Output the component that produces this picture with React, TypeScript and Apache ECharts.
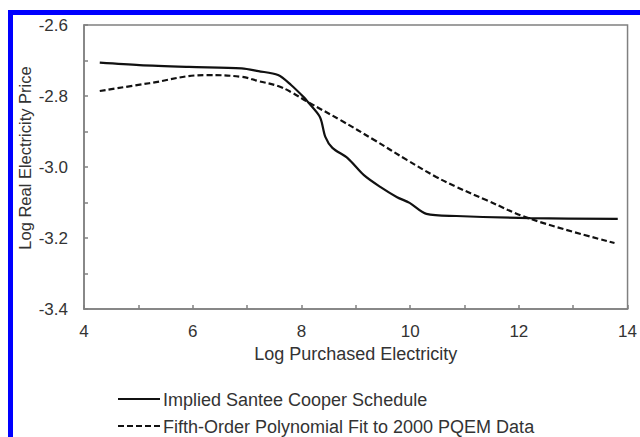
import React, { useEffect, useRef } from "react";
import * as echarts from "echarts";

const solidX = [4.29, 5.02, 5.93, 6.9, 7.21, 7.57, 7.81, 8.06, 8.12, 8.34, 8.44, 8.57, 8.85, 9.15, 9.45, 9.76, 9.99, 10.3, 10.85, 12.21, 13.82];
const solidY = [-2.706, -2.713, -2.718, -2.722, -2.73, -2.741, -2.769, -2.806, -2.817, -2.859, -2.915, -2.946, -2.975, -3.023, -3.056, -3.085, -3.101, -3.132, -3.138, -3.144, -3.146];

const fitX = [4.29, 5.2, 6.24, 6.9, 7.21, 7.57, 7.81, 8.12, 8.72, 9.34, 9.94, 10.48, 10.85, 11.4, 12.21, 13.76];
const fitY = [-2.786, -2.764, -2.741, -2.746, -2.758, -2.772, -2.789, -2.817, -2.868, -2.924, -2.98, -3.028, -3.056, -3.093, -3.146, -3.214];

const seriesNames = ["Implied Santee Cooper Schedule", "Fifth-Order Polynomial Fit to 2000 PQEM Data"];
const xTitle = "Log Purchased Electricity";
const yTitle = "Log Real Electricity Price";

const FONT = "'Liberation Sans', Arial, sans-serif";
const AX = "#808080";
const TXT = "#333333";
const LINE = "#111111";
const DASH = [6, 3];

export default function App() {
  const ref = useRef<HTMLDivElement>(null);
  useEffect(() => {
    if (!ref.current) return;
    const chart = echarts.init(ref.current, undefined, { renderer: "svg" });
    const legendRows = [399, 426];
    const legendGraphics: any[] = [];
    seriesNames.forEach((name, i) => {
      legendGraphics.push({
        type: "line",
        shape: { x1: 118, y1: legendRows[i], x2: 160, y2: legendRows[i] },
        style: { stroke: LINE, lineWidth: 2.2, lineDash: i === 0 ? null : DASH },
      });
      legendGraphics.push({
        type: "text",
        x: 163,
        y: legendRows[i] + 1,
        style: { text: name, fontSize: 18, fontFamily: FONT, fill: TXT, verticalAlign: "middle" },
      });
    });
    chart.setOption({
      animation: false,
      backgroundColor: "#ffffff",
      textStyle: { fontFamily: FONT },
      grid: { left: 84, top: 25, right: 7, bottom: 128, show: true, borderColor: AX, borderWidth: 1.5, backgroundColor: "transparent" },
      graphic: [
        { type: "rect", shape: { x: 8, y: 10, width: 5, height: 427 }, style: { fill: "#0000ff" }, z: 100 },
        { type: "rect", shape: { x: 8, y: 10, width: 632, height: 5 }, style: { fill: "#0000ff" }, z: 100 },
        {
          type: "text",
          x: 25,
          y: 158,
          rotation: Math.PI / 2,
          style: { text: yTitle, fontSize: 16.5, fontFamily: FONT, fill: TXT, align: "center", verticalAlign: "middle" },
        },
        ...legendGraphics,
      ],
      xAxis: {
        type: "value",
        min: 4,
        max: 14,
        interval: 1,
        name: xTitle,
        nameLocation: "middle",
        nameGap: 36,
        nameTextStyle: { fontSize: 18, color: TXT, fontFamily: FONT },
        axisLine: { show: true, lineStyle: { color: AX, width: 1.5 } },
        axisTick: { show: true, inside: true, length: 4, lineStyle: { color: AX, width: 1.5 } },
        axisLabel: {
          fontSize: 17,
          color: TXT,
          fontFamily: FONT,
          margin: 14,
          formatter: (v: number) => (Math.round(v) % 2 === 0 ? String(Math.round(v)) : ""),
        },
        splitLine: { show: false },
      },
      yAxis: {
        type: "value",
        min: -3.4,
        max: -2.6,
        interval: 0.1,
        axisLine: { show: true, lineStyle: { color: AX, width: 1.5 } },
        axisTick: { show: true, inside: true, length: 4, lineStyle: { color: AX, width: 1.5 } },
        axisLabel: {
          fontSize: 17,
          color: TXT,
          fontFamily: FONT,
          margin: 16,
          formatter: (v: number) => (Math.round(Math.abs(v) * 10) % 2 === 0 ? v.toFixed(1) : ""),
        },
        splitLine: { show: false },
      },
      series: [
        {
          name: seriesNames[0],
          type: "line",
          data: solidX.map((x, i) => [x, solidY[i]]),
          showSymbol: false,
          symbol: "none",
          smooth: 0.3,
          lineStyle: { color: LINE, width: 2.2, type: "solid" },
          itemStyle: { color: LINE },
        },
        {
          name: seriesNames[1],
          type: "line",
          data: fitX.map((x, i) => [x, fitY[i]]),
          showSymbol: false,
          symbol: "none",
          smooth: 0.4,
          lineStyle: { color: LINE, width: 2.2, type: DASH },
          itemStyle: { color: LINE },
        },
      ],
    });
    return () => chart.dispose();
  }, []);
  return (
    <div
      ref={ref}
      style={{ position: "fixed", left: 0, top: 0, width: 640, height: 437, background: "#fff" }}
    />
  );
}
